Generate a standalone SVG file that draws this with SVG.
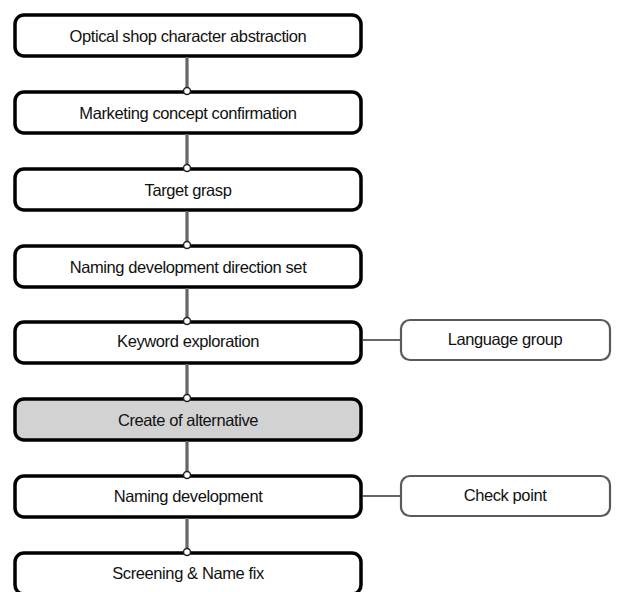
<svg xmlns="http://www.w3.org/2000/svg" width="617" height="592" viewBox="0 0 617 592">
<style>
.main{fill:#fff;stroke:#000;stroke-width:3.5}
.hl{fill:#d2d2d2}
.side{fill:#fff;stroke:#5a5a5a;stroke-width:2.2}
.t{font-family:"Liberation Sans",Arial,sans-serif;font-size:16.5px;letter-spacing:-0.4px;fill:#111;text-anchor:middle;dominant-baseline:central}
.v{stroke:#666;stroke-width:3.2;fill:none}
.h{stroke:#666;stroke-width:2;fill:none}
.dot{fill:#fff;stroke:#222;stroke-width:1.5}
</style>
<g id="n1"><rect class="main" x="15" y="15" width="346" height="41" rx="9"/><text class="t" x="188" y="35.5">Optical shop character abstraction</text></g>
<g id="n2"><rect class="main" x="15" y="92" width="346" height="41" rx="9"/><text class="t" x="188" y="112.5">Marketing concept confirmation</text></g>
<g id="n3"><rect class="main" x="15" y="169" width="346" height="41" rx="9"/><text class="t" x="188" y="189.5">Target grasp</text></g>
<g id="n4"><rect class="main" x="15" y="246" width="346" height="41" rx="9"/><text class="t" x="188" y="266.5">Naming development direction set</text></g>
<g id="n5"><rect class="main" x="15" y="322" width="346" height="41" rx="9"/><text class="t" x="188" y="341">Keyword exploration</text></g>
<g id="n6"><rect class="main hl" x="15" y="399" width="346" height="41" rx="9"/><text class="t" x="188" y="419.5">Create of alternative</text></g>
<g id="n7"><rect class="main" x="15" y="476" width="346" height="41" rx="9"/><text class="t" x="188" y="496">Naming development</text></g>
<g id="n8"><rect class="main" x="15" y="553" width="346" height="41" rx="9"/><text class="t" x="188" y="573">Screening &amp; Name fix</text></g>
<g id="s1"><rect class="side" x="401" y="320" width="209" height="40" rx="9"/><text class="t" x="505" y="339">Language group</text></g>
<g id="s2"><rect class="side" x="401" y="476" width="209" height="40" rx="9"/><text class="t" x="505" y="495">Check point</text></g>
<g id="connectors">
<line class="v" x1="187" y1="57" x2="187" y2="91"/>
<line class="v" x1="187" y1="134" x2="187" y2="168"/>
<line class="v" x1="187" y1="211" x2="187" y2="245"/>
<line class="v" x1="187" y1="288" x2="187" y2="321"/>
<line class="v" x1="187" y1="364" x2="187" y2="398"/>
<line class="v" x1="187" y1="441" x2="187" y2="475"/>
<line class="v" x1="187" y1="518" x2="187" y2="552"/>
<line class="h" x1="363" y1="340" x2="400" y2="340"/>
<line class="h" x1="363" y1="496" x2="400" y2="496"/>
<circle class="dot" cx="187" cy="91" r="3.5"/>
<circle class="dot" cx="187" cy="168" r="3.5"/>
<circle class="dot" cx="187" cy="245" r="3.5"/>
<circle class="dot" cx="187" cy="321" r="3.5"/>
<circle class="dot" cx="187" cy="398" r="3.5"/>
<circle class="dot" cx="187" cy="475" r="3.5"/>
<circle class="dot" cx="187" cy="552" r="3.5"/>
</g>
</svg>
